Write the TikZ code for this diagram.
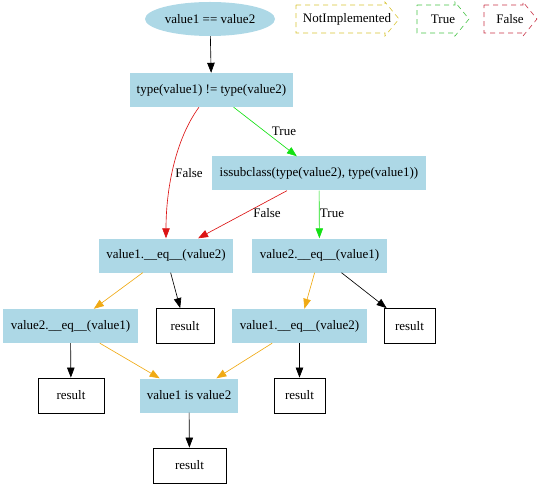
\documentclass[tikz,border=0pt]{standalone}
\usepackage{fontspec}
\setmainfont{Liberation Serif}
\usetikzlibrary{arrows.meta,shapes.geometric}
\definecolor{lblue}{RGB}{173,216,230}
\definecolor{eorange}{RGB}{240,170,20}
\definecolor{egreen}{RGB}{20,225,20}
\definecolor{ered}{RGB}{220,20,20}
\definecolor{lgold}{RGB}{215,195,50}
\definecolor{lgreen}{RGB}{70,195,70}
\definecolor{lred}{RGB}{200,50,70}
\begin{document}
\begin{tikzpicture}[x=1bp,y=-1bp,
  font=\fontsize{13bp}{15bp}\selectfont,
  box/.style={fill=lblue, rectangle, inner sep=0pt, minimum height=34bp},
  res/.style={draw=black, thick, rectangle, inner sep=0pt, minimum height=35bp},
  edge/.style={-{Triangle[length=10bp,width=7.5bp]}, line width=0.65pt},
  lbl/.style={inner sep=0pt, fill=none},
  legend/.style={dashed, dash pattern=on 5bp off 4bp, line width=0.6pt}]
\useasboundingbox (0,0) rectangle (540,487);
% nodes
\node[ellipse, fill=lblue, minimum width=130bp, minimum height=34bp, inner sep=0pt] (start) at (210,19) {value1 == value2};
\node[box, minimum width=163bp] (typ) at (211.5,90) {type(value1) != type(value2)};
\node[box, minimum width=214bp] (sub) at (319,173.5) {issubclass(type(value2), type(value1))};
\node[box, minimum width=134bp] (e1a) at (166,255.5) {value1.\_\_eq\_\_(value2)};
\node[box, minimum width=135bp] (e2a) at (319.5,255.5) {value2.\_\_eq\_\_(value1)};
\node[box, minimum width=135bp] (e2b) at (70.5,326) {value2.\_\_eq\_\_(value1)};
\node[res, minimum width=58bp] (r1) at (185,326) {result};
\node[box, minimum width=135bp] (e1b) at (299.5,326) {value1.\_\_eq\_\_(value2)};
\node[res, minimum width=51bp] (r2) at (409.5,326) {result};
\node[res, minimum width=66bp] (r3) at (71,395.5) {result};
\node[box, minimum width=98bp] (iss) at (189,395.5) {value1 is value2};
\node[res, minimum width=51bp] (r4) at (299.5,395.5) {result};
\node[res, minimum width=73bp] (r5) at (189.5,465.5) {result};
% legend
\draw[legend, lgold] (296,5) -- (385,5) -- (385,2) -- (399,19) -- (385,36) -- (385,33) -- (296,33) -- cycle;
\node[lbl] (lni) at (347,19) {NotImplemented};
\draw[legend, lgreen] (417,5) -- (455,5) -- (455,2) -- (469,19) -- (455,36) -- (455,33) -- (417,33) -- cycle;
\node[lbl] (ltrue) at (443,19) {True};
\draw[legend, lred] (484,5) -- (523,5) -- (523,2) -- (537,19) -- (523,36) -- (523,33) -- (484,33) -- cycle;
\node[lbl] (lfalse) at (510,19) {False};
% edges
\draw[edge, black] (start) -- (typ);
\draw[edge, egreen] (typ) -- (sub);
\draw[edge, ered] (typ) .. controls (175,140) and (166,190) .. (e1a);
\draw[edge, ered] (sub) -- (e1a);
\draw[edge, egreen] (sub) -- (e2a);
\draw[edge, eorange] (e1a) -- (e2b);
\draw[edge, black] (e1a) -- (r1);
\draw[edge, eorange] (e2a) -- (e1b);
\draw[edge, black] (e2a) -- (r2);
\draw[edge, black] (e2b) -- (r3);
\draw[edge, eorange] (e2b) -- (iss);
\draw[edge, eorange] (e1b) -- (iss);
\draw[edge, black] (e1b) -- (r4);
\draw[edge, black] (iss) -- (r5);
% edge labels
\node[lbl] (t1) at (284,131) {True};
\node[lbl] (f1) at (189,173) {False};
\node[lbl] (f2) at (267,213) {False};
\node[lbl] (t2) at (332,213) {True};
\end{tikzpicture}
\end{document}
